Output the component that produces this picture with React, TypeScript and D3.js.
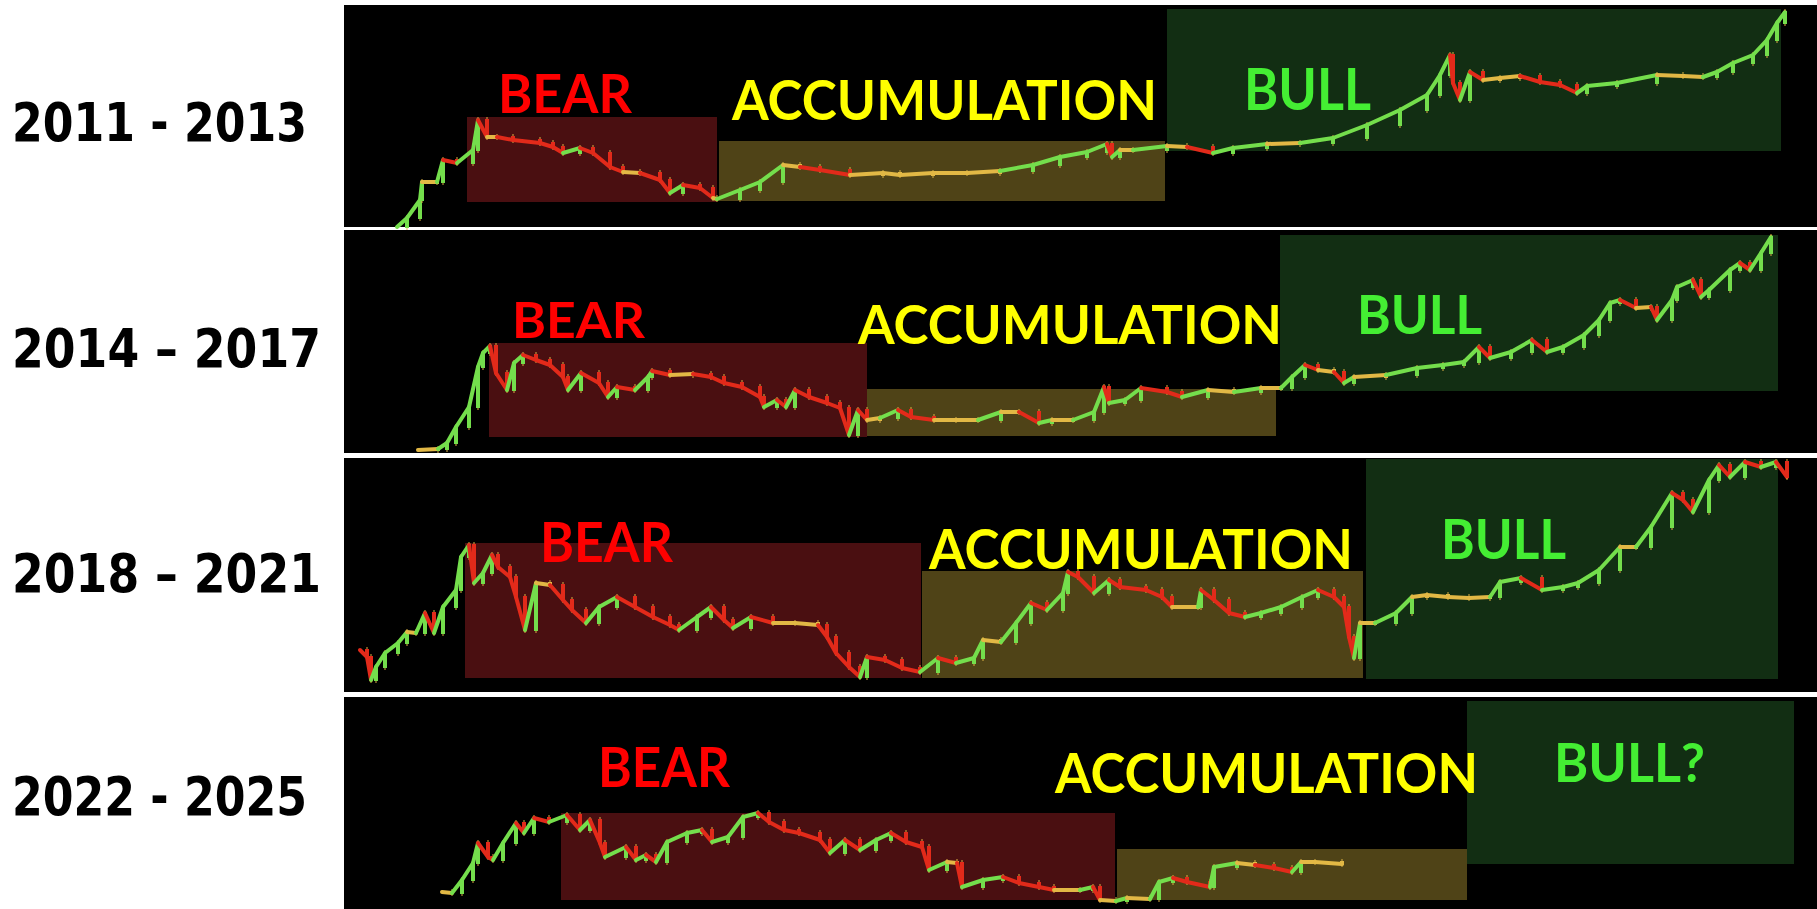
import React from 'react';
import * as d3 from 'd3';

// ---------- DATA ----------
// Cycle labels
const cycleLabels = ['2011 - 2013', '2014 \u2013 2017', '2018 \u2013 2021', '2022 - 2025'];
const phaseNames = ['BEAR', 'ACCUMULATION', 'BULL'];
const lastBullName = 'BULL?';

// Price path per cycle: [day in cycle, relative price level]
const cycle1: [number, number][] = [
  [53, 0], [63, 9], [76, 27], [78, 45], [93, 45], [99, 67], [113, 64], [129, 77], [134, 107], [143, 90],
  [153, 90], [169, 87], [196, 84], [209, 80], [219, 74], [236, 79], [249, 74], [266, 60], [279, 55], [296, 54],
  [316, 47], [326, 34], [339, 42], [356, 39], [369, 29], [373, 28], [396, 37], [416, 45], [439, 62], [456, 60],
  [476, 57], [506, 52], [539, 54], [556, 52], [589, 54], [623, 54], [656, 56], [689, 62], [716, 70], [743, 75],
  [763, 83], [768, 70], [776, 77], [789, 77], [823, 81], [843, 80], [869, 74], [889, 79], [923, 83], [956, 84],
  [989, 89], [1023, 102], [1056, 117], [1083, 132], [1096, 152], [1106, 172], [1109, 144], [1116, 127], [1126, 155], [1139, 147],
  [1156, 149], [1176, 151], [1196, 145], [1216, 142], [1233, 134], [1243, 141], [1273, 144], [1313, 152], [1339, 151], [1359, 150],
  [1373, 155], [1389, 164], [1409, 172], [1423, 187], [1433, 204], [1441, 215],
];
const cycle2: [number, number][] = [
  [74, 3], [94, 4], [103, 10], [112, 26], [125, 46], [134, 86], [139, 100], [146, 107], [152, 80], [163, 63],
  [170, 90], [179, 98], [192, 93], [206, 88], [219, 76], [224, 63], [237, 80], [255, 70], [264, 56], [273, 66],
  [291, 63], [304, 76], [308, 82], [326, 78], [349, 79], [367, 76], [380, 70], [398, 66], [416, 56], [420, 46],
  [433, 53], [442, 46], [451, 63], [465, 56], [483, 50], [496, 45], [505, 18], [514, 43], [523, 33], [536, 35],
  [554, 43], [567, 36], [590, 33], [612, 33], [634, 33], [657, 41], [675, 41], [695, 30], [708, 33], [729, 33],
  [750, 41], [760, 66], [765, 50], [781, 53], [797, 65], [823, 61], [838, 56], [864, 63], [890, 61], [917, 65],
  [937, 65], [948, 76], [961, 88], [974, 83], [990, 81], [1000, 70], [1010, 76], [1042, 78], [1073, 85], [1099, 88],
  [1120, 91], [1135, 106], [1146, 95], [1167, 101], [1188, 113], [1203, 101], [1219, 106], [1240, 118], [1255, 133], [1266, 150],
  [1276, 153], [1292, 145], [1307, 146], [1313, 133], [1328, 153], [1333, 166], [1349, 173], [1357, 156], [1365, 163], [1386, 183],
  [1396, 190], [1406, 183], [1417, 200], [1427, 216],
];
const cycle3: [number, number][] = [
  [16, 42], [23, 35], [27, 12], [32, 25], [41, 39], [54, 49], [63, 60], [72, 59], [81, 79], [90, 59],
  [99, 85], [112, 102], [117, 135], [125, 147], [130, 109], [139, 119], [148, 137], [154, 125], [166, 115], [172, 95],
  [181, 62], [192, 109], [206, 107], [219, 92], [228, 82], [242, 69], [255, 85], [273, 95], [291, 85], [309, 75],
  [326, 67], [335, 62], [353, 75], [367, 85], [380, 72], [389, 64], [407, 75], [429, 69], [451, 69], [474, 67],
  [483, 55], [492, 39], [505, 25], [516, 15], [523, 35], [541, 32], [558, 24], [576, 20], [594, 34], [612, 29],
  [630, 34], [639, 52], [657, 50], [672, 69], [687, 89], [703, 82], [719, 99], [724, 120], [734, 115], [750, 99],
  [765, 112], [776, 105], [802, 102], [818, 95], [828, 85], [854, 85], [857, 102], [870, 92], [885, 79], [901, 75],
  [917, 79], [937, 85], [958, 95], [974, 102], [990, 95], [1000, 85], [1005, 55], [1010, 34], [1016, 69], [1031, 69],
  [1052, 79], [1068, 95], [1083, 97], [1104, 95], [1125, 94], [1146, 95], [1156, 110], [1177, 114], [1198, 102], [1219, 105],
  [1234, 109], [1255, 122], [1276, 145], [1292, 145], [1307, 165], [1328, 199], [1339, 192], [1349, 180], [1365, 212], [1375, 227],
  [1386, 215], [1401, 230], [1417, 225], [1432, 230], [1443, 215],
];
const cycle4: [number, number][] = [
  [98, 17], [108, 16], [118, 29], [129, 46], [134, 66], [144, 52], [149, 49], [159, 66], [172, 86], [180, 76],
  [190, 91], [205, 87], [223, 94], [236, 79], [246, 89], [256, 66], [261, 52], [282, 62], [292, 49], [302, 54],
  [312, 47], [323, 67], [343, 76], [358, 79], [368, 67], [384, 72], [399, 92], [414, 96], [425, 87], [440, 79],
  [455, 76], [476, 69], [486, 56], [501, 69], [516, 59], [532, 69], [547, 76], [562, 67], [578, 62], [585, 39],
  [603, 47], [613, 46], [618, 22], [639, 29], [659, 32], [675, 26], [695, 22], [710, 19], [736, 19], [749, 22],
  [756, 9], [772, 8], [783, 11], [806, 10], [815, 27], [829, 31], [843, 27], [866, 22], [870, 42], [893, 46],
  [911, 44], [930, 41], [948, 37], [957, 47], [971, 47], [998, 45],
];

// Phase boxes per cycle: [startDay, endDay, lowLevel, highLevel] for bear, accumulation, bull
const boxes1: [number, number, number, number][] = [[123, 373, 25, 110], [375, 821, 26, 86], [823, 1437, 76, 218]];
const boxes2: [number, number, number, number][] = [[145, 523, 16, 110], [523, 932, 17, 64], [936, 1434, 62, 218]];
const boxes3: [number, number, number, number][] = [[121, 577, 14, 149], [578, 1019, 14, 121], [1022, 1434, 13, 233]];
const boxes4: [number, number, number, number][] = [[217, 771, 9, 96], [773, 1123, 9, 60], [1123, 1450, 45, 208]];

// Phase label anchors: [startDay, endDay, baselineLevel, capTopLevel]
const labels1: [number, number, number, number][] = [[154, 288, 114, 153], [388, 813, 107, 147], [900, 1027, 117, 158]];
const labels2: [number, number, number, number][] = [[168, 301, 115, 151], [514, 938, 109, 148], [1013, 1138, 119, 158]];
const labels3: [number, number, number, number][] = [[196, 329, 130, 170], [585, 1009, 123, 163], [1097, 1222, 133, 173]];
const labels4: [number, number, number, number][] = [[254, 386, 122, 162], [711, 1134, 116, 156], [1210, 1361, 127, 166]];

// ---------- LAYOUT / STYLE ----------
const W = 1817;
const H = 909;
const PANEL_X0 = 344;
const panelTops = [5, 230, 458, 697];
const panelBottoms = [227, 453, 692, 909];
const yearBaselines = [141, 367, 592, 815];
const yearRight = [307, 321, 321, 307];
const YEAR_LEFT = 12;

const boxFills = ['#4a0f11', '#4f4317', '#122e13'];
const labelColors = ['#ff0000', '#ffff00', '#44ee33'];
const UP = '#74de4c';
const DOWN = '#e22a1a';
const FLAT = '#e2b845';

const series = [cycle1, cycle2, cycle3, cycle4];
const boxesAll = [boxes1, boxes2, boxes3, boxes4];
const labelsAll = [labels1, labels2, labels3, labels4];

const xScale = d3.scaleLinear().domain([0, W - PANEL_X0]).range([PANEL_X0, W]);

function Panel({ idx }: { idx: number }) {
  const top = panelTops[idx];
  const bottom = panelBottoms[idx];
  const y = d3.scaleLinear().domain([0, bottom - top]).range([bottom, top]);
  const data = series[idx];
  const boxes = boxesAll[idx];
  const labels = labelsAll[idx];

  const segs = data.slice(1).map((b, i) => {
    const a = data[i];
    const d = b[1] - a[1];
    const color = d > 2 ? UP : d < -2 ? DOWN : FLAT;
    const x0 = xScale(a[0]);
    const x1 = xScale(b[0]);
    const ya = y(a[1]);
    const yb = y(b[1]);
    const yTop = Math.min(ya, yb);
    const yBot = Math.max(ya, yb);
    return (
      <g key={i}>
        <line x1={x0} y1={ya} x2={x1} y2={yb} stroke={color} strokeWidth={4} strokeLinecap="round" />
        <line x1={x1} x2={x1} y1={yTop - 3} y2={yBot + 3} stroke={FLAT} strokeWidth={1.2} opacity={0.8} />
        <rect x={x1 - 2} width={4} y={yTop - 1} height={Math.max(3, yBot - yTop + 2)} fill={color} />
      </g>
    );
  });

  return (
    <g>
      <rect x={PANEL_X0} y={top} width={W - PANEL_X0} height={bottom - top} fill="#000" />
      {boxes.map((bx, i) => (
        <rect
          key={'b' + i}
          x={xScale(bx[0])}
          width={xScale(bx[1]) - xScale(bx[0])}
          y={y(bx[3])}
          height={y(bx[2]) - y(bx[3])}
          fill={boxFills[i]}
        />
      ))}
      {labels.map((lb, i) => {
        const capPx = Math.abs(y(lb[3]) - y(lb[2]));
        const fs = capPx / 0.72;
        const text = idx === 3 && i === 2 ? lastBullName : phaseNames[i];
        return (
          <text
            key={'l' + i}
            x={xScale(lb[0])}
            y={y(lb[2])}
            fill={labelColors[i]}
            fontFamily="Lato, 'Open Sans', sans-serif"
            fontWeight={700}
            fontSize={fs}
            textLength={xScale(lb[1]) - xScale(lb[0])}
            lengthAdjust="spacingAndGlyphs"
          >
            {text}
          </text>
        );
      })}
      {segs}
    </g>
  );
}

export default function App() {
  return (
    <svg
      width={W}
      height={H}
      viewBox={`0 0 ${W} ${H}`}
      style={{ position: 'absolute', left: 0, top: 0, display: 'block', background: '#fff' }}
    >
      <rect x={0} y={0} width={W} height={H} fill="#fff" />
      {cycleLabels.map((t, i) => (
        <text
          key={t}
          x={YEAR_LEFT}
          y={yearBaselines[i]}
          fontFamily="'DejaVu Sans', Verdana, sans-serif"
          fontWeight={700}
          fontSize={54}
          fill="#000"
          textLength={yearRight[i] - YEAR_LEFT}
          lengthAdjust="spacingAndGlyphs"
        >
          {t}
        </text>
      ))}
      {[0, 1, 2, 3].map((i) => (
        <Panel key={i} idx={i} />
      ))}
    </svg>
  );
}
